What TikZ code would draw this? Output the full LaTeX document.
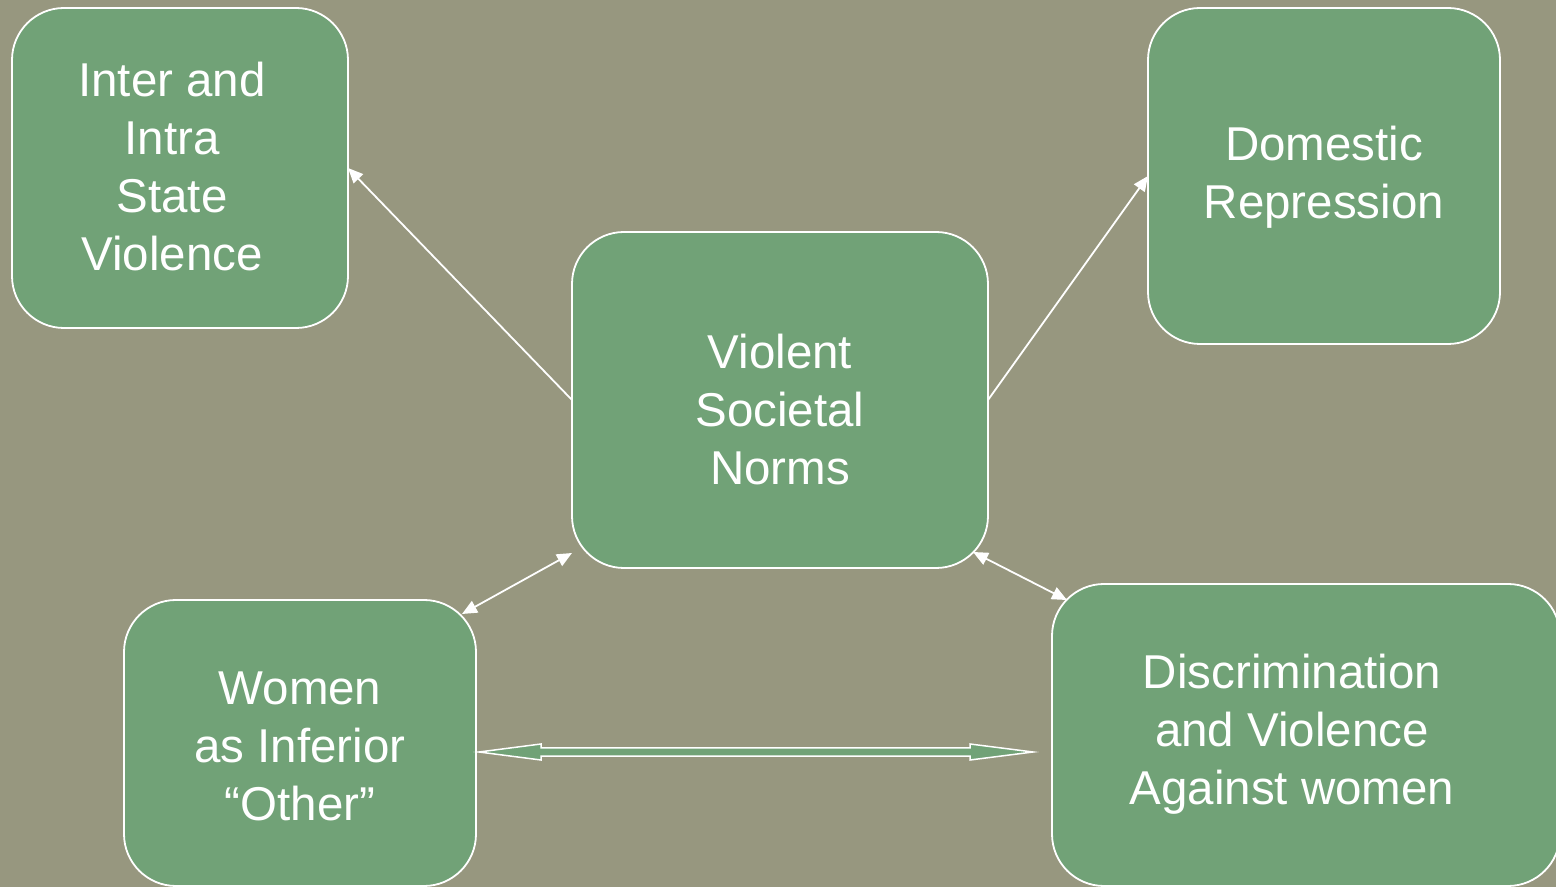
\documentclass[tikz,border=0pt]{standalone}
\usepackage{fontspec}
\setmainfont{Liberation Sans}
\usetikzlibrary{arrows.meta,calc}
\definecolor{bgc}{RGB}{151,151,127}
\definecolor{boxg}{RGB}{113,162,119}
\tikzset{
  gbox/.style={draw=white, line width=1.8pt, fill=boxg, rounded corners=52pt, inner sep=0pt, outer sep=0pt},
  gtext/.style={text=white, align=center, inner sep=0pt, font=\fontsize{47.5}{58}\selectfont},
  conn/.style={draw=white, line width=1.8pt, -{Triangle[length=15pt,width=13pt]}},
  bconn/.style={draw=white, line width=1.8pt, {Triangle[length=15pt,width=13pt]}-{Triangle[length=15pt,width=13pt]}},
  blockarrow/.style={draw=white, line width=1.5pt, fill=boxg, line join=miter}
}
\begin{document}
\begin{tikzpicture}[x=1pt,y=1pt]
\useasboundingbox (0,0) rectangle (1556,887);
\fill[bgc] (0,0) rectangle (1556,887);
\begin{scope}
\clip (0,0) rectangle (1556,887);
% boxes
\node[gbox, minimum width=336pt, minimum height=320pt] (A) at (180,719) {};
\node[gbox, minimum width=352pt, minimum height=336pt] (B) at (1324,711) {};
\node[gbox, minimum width=416pt, minimum height=336pt] (C) at (780,487) {};
\node[gbox, minimum width=352pt, minimum height=286pt] (D) at (300,144) {};
\node[gbox, minimum width=508pt, minimum height=302pt] (E) at (1306,152) {};
\end{scope}
% texts
\node[gtext] (At) at (172,715) {\strut Inter and\\Intra\\State\\Violence\strut};
\node[gtext] (Bt) at (1324,709) {\strut Domestic\\Repression\strut};
\node[gtext] (Ct) at (780,472) {\strut Violent\\Societal\\Norms\strut};
\node[gtext] (Dt) at (300,136) {\strut Women\\as Inferior\\“Other”\strut};
\node[gtext] (Et) at (1292,152) {\strut Discrimination\\and Violence\\Against women\strut};
% connectors
\draw[conn] (C.west) -- (A.east);
\draw[conn] (C.east) -- (B.west);
\draw[bconn] ($(C.south west)+(0,15)$) -- ($(D.north east)+(-14,-14)$);
\draw[bconn] ($(C.south east)+(-15,16)$) -- ($(E.north west)+(15,-16)$);
% block double arrow
\coordinate (bl) at ($(D.east |- 0,135)+(3,0)$);
\coordinate (br) at ($(E.west |- bl)+(-19,0)$);
\draw[blockarrow] (bl) -- ++(62,8) -- ++(0,-3.85) -- ($(br)+(-63,4.15)$) -- ++(0,3.85) -- (br)
  -- ++(-63,-8) -- ++(0,3.85) -- ($(bl)+(62,-4.15)$) -- ++(0,-3.85) -- cycle;
\end{tikzpicture}
\end{document}
